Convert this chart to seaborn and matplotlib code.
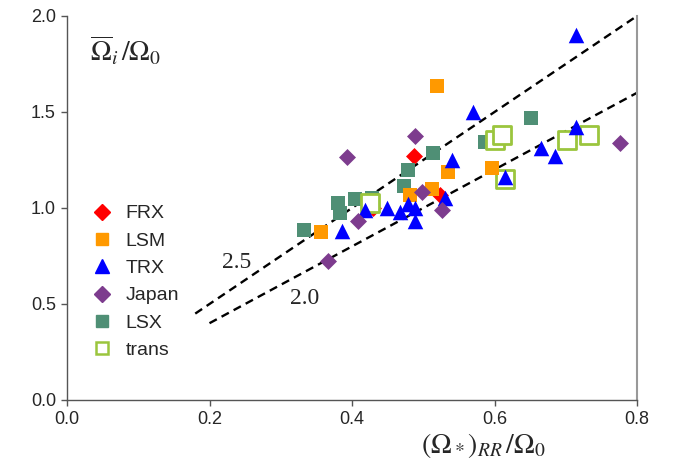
import matplotlib
matplotlib.use("Agg")
import matplotlib.pyplot as plt
import seaborn as sns
import pandas as pd
import numpy as np
from matplotlib.lines import Line2D

# ---- data ----
frx_x = [0.487, 0.430, 0.524]
frx_y = [1.27, 1.00, 1.07]

lsm_x = [0.519, 0.356, 0.535, 0.512, 0.482, 0.597]
lsm_y = [1.635, 0.873, 1.19, 1.10, 1.07, 1.21]

trx_x = [0.714, 0.570, 0.540, 0.714, 0.665, 0.685, 0.615, 0.386, 0.418, 0.449,
         0.467, 0.479, 0.488, 0.488, 0.531]
trx_y = [1.90, 1.50, 1.25, 1.42, 1.31, 1.27, 1.16, 0.88, 0.99, 1.00,
         0.98, 1.02, 1.00, 0.93, 1.05]

japan_x = [0.776, 0.488, 0.393, 0.367, 0.409, 0.498, 0.527]
japan_y = [1.337, 1.375, 1.267, 0.724, 0.932, 1.085, 0.99]

lsx_x = [0.651, 0.587, 0.513, 0.479, 0.473, 0.333, 0.380, 0.383, 0.404, 0.428]
lsx_y = [1.467, 1.345, 1.285, 1.198, 1.116, 0.885, 1.028, 0.972, 1.045, 1.05]

trans_x = [0.425, 0.601, 0.611, 0.615, 0.702, 0.732]
trans_y = [1.024, 1.354, 1.38, 1.15, 1.354, 1.38]

ref_slopes = [2.5, 2.0]
ref_x_start = [0.18, 0.20]
ref_x_end = [0.80, 0.80]
ref_labels = ["2.5", "2.0"]

x_ticks = [0.0, 0.2, 0.4, 0.6, 0.8]
y_ticks = [0.0, 0.5, 1.0, 1.5, 2.0]

series_order = ["FRX", "LSM", "TRX", "Japan", "LSX", "trans"]

# ---- styles ----
colors = {"FRX": "#FF0000", "LSM": "#FF9900", "TRX": "#0000FF",
          "Japan": "#7D3C8E", "LSX": "#4F8F75", "trans": "#9BC53D"}
markers = {"FRX": "D", "LSM": "s", "TRX": "^", "Japan": "D", "LSX": "s", "trans": "s"}
sizes = {"FRX": 75, "LSM": 105, "TRX": 125, "Japan": 75, "LSX": 105, "trans": 150}
zorders = {"FRX": 3, "LSX": 4, "trans": 5, "LSM": 6, "TRX": 7, "Japan": 8}

frames = []
for name, xs, ys in [("FRX", frx_x, frx_y), ("LSM", lsm_x, lsm_y), ("TRX", trx_x, trx_y),
                     ("Japan", japan_x, japan_y), ("LSX", lsx_x, lsx_y),
                     ("trans", trans_x, trans_y)]:
    frames.append(pd.DataFrame({"x": xs, "y": ys, "series": name}))
df = pd.concat(frames, ignore_index=True)

sns.set_theme(style="white")
plt.rcParams["font.family"] = ["Liberation Sans", "DejaVu Sans"]
plt.rcParams["mathtext.fontset"] = "stix"

fig = plt.figure(figsize=(6.74, 4.72), dpi=100)
ax = fig.add_axes([67 / 674, 1 - 400 / 472, (637 - 67) / 674, (400 - 16) / 472])

# reference lines
for slope, x0, x1 in zip(ref_slopes, ref_x_start, ref_x_end):
    lx = np.array([x0, x1])
    ldf = pd.DataFrame({"x": lx, "y": slope * lx})
    sns.lineplot(data=ldf, x="x", y="y", ax=ax, color="black", linewidth=1.7,
                 dashes=False, zorder=2)
    ax.lines[-1].set_dashes([3.5, 2.3])

ax.text(0.238, 0.715, ref_labels[0], fontsize=17, family="Liberation Serif",
        ha="center", va="center")
ax.text(0.333, 0.530, ref_labels[1], fontsize=17, family="Liberation Serif",
        ha="center", va="center")

for name in ["FRX", "LSX", "trans", "LSM", "TRX", "Japan"]:
    sub = df[df["series"] == name]
    sns.scatterplot(data=sub, x="x", y="y", ax=ax, marker=markers[name],
                    s=sizes[name], color=colors[name], linewidth=0,
                    zorder=zorders[name], legend=False)
    coll = ax.collections[-1]
    if name == "trans":
        coll.set_facecolor("white")
        coll.set_edgecolor(colors[name])
        coll.set_linewidth(2.0)
    else:
        coll.set_edgecolor(colors[name])

ax.set_xlim(0, 0.8)
ax.set_ylim(0, 2.0)
ax.set_xticks(x_ticks)
ax.set_yticks(y_ticks)
ax.set_xticklabels([f"{v:.1f}" for v in x_ticks], fontsize=13)
ax.set_yticklabels([f"{v:.1f}" for v in y_ticks], fontsize=13)
ax.tick_params(axis="both", direction="out", length=4, width=1, color="#555555",
               bottom=True, left=True, pad=4)
ax.set_xlabel("")
ax.set_ylabel("")

for side in ["left", "bottom"]:
    ax.spines[side].set_color("#555555")
    ax.spines[side].set_linewidth(1.0)
ax.spines["right"].set_color("#999999")
ax.spines["right"].set_linewidth(1.5)
ax.spines["top"].set_visible(False)

ax.text(0.040, 0.910, r"$\overline{\Omega}_i\,/\Omega_0$", transform=ax.transAxes,
        fontsize=20, ha="left", va="center")
fig.text(483 / 674, 1 - 445 / 472, r"$(\Omega_*)_{RR}\,/\Omega_0$", fontsize=20,
         ha="center", va="center")

# legend
handles = []
for name in series_order:
    if name == "trans":
        h = Line2D([], [], linestyle="none", marker="s", markersize=9,
                   markerfacecolor="white", markeredgecolor=colors[name],
                   markeredgewidth=1.8)
    else:
        ms = {"D": 8, "s": 9, "^": 10}[markers[name]]
        h = Line2D([], [], linestyle="none", marker=markers[name], markersize=ms,
                   markerfacecolor=colors[name], markeredgecolor=colors[name])
    handles.append(h)
leg = ax.legend(handles, series_order, loc="upper left",
                bbox_to_anchor=(18 / 570, (400 - 197) / 384), frameon=False,
                fontsize=14, handlelength=0.95, handletextpad=0.75,
                labelspacing=0.5, borderaxespad=0)

fig.savefig("out.png", dpi=100)
